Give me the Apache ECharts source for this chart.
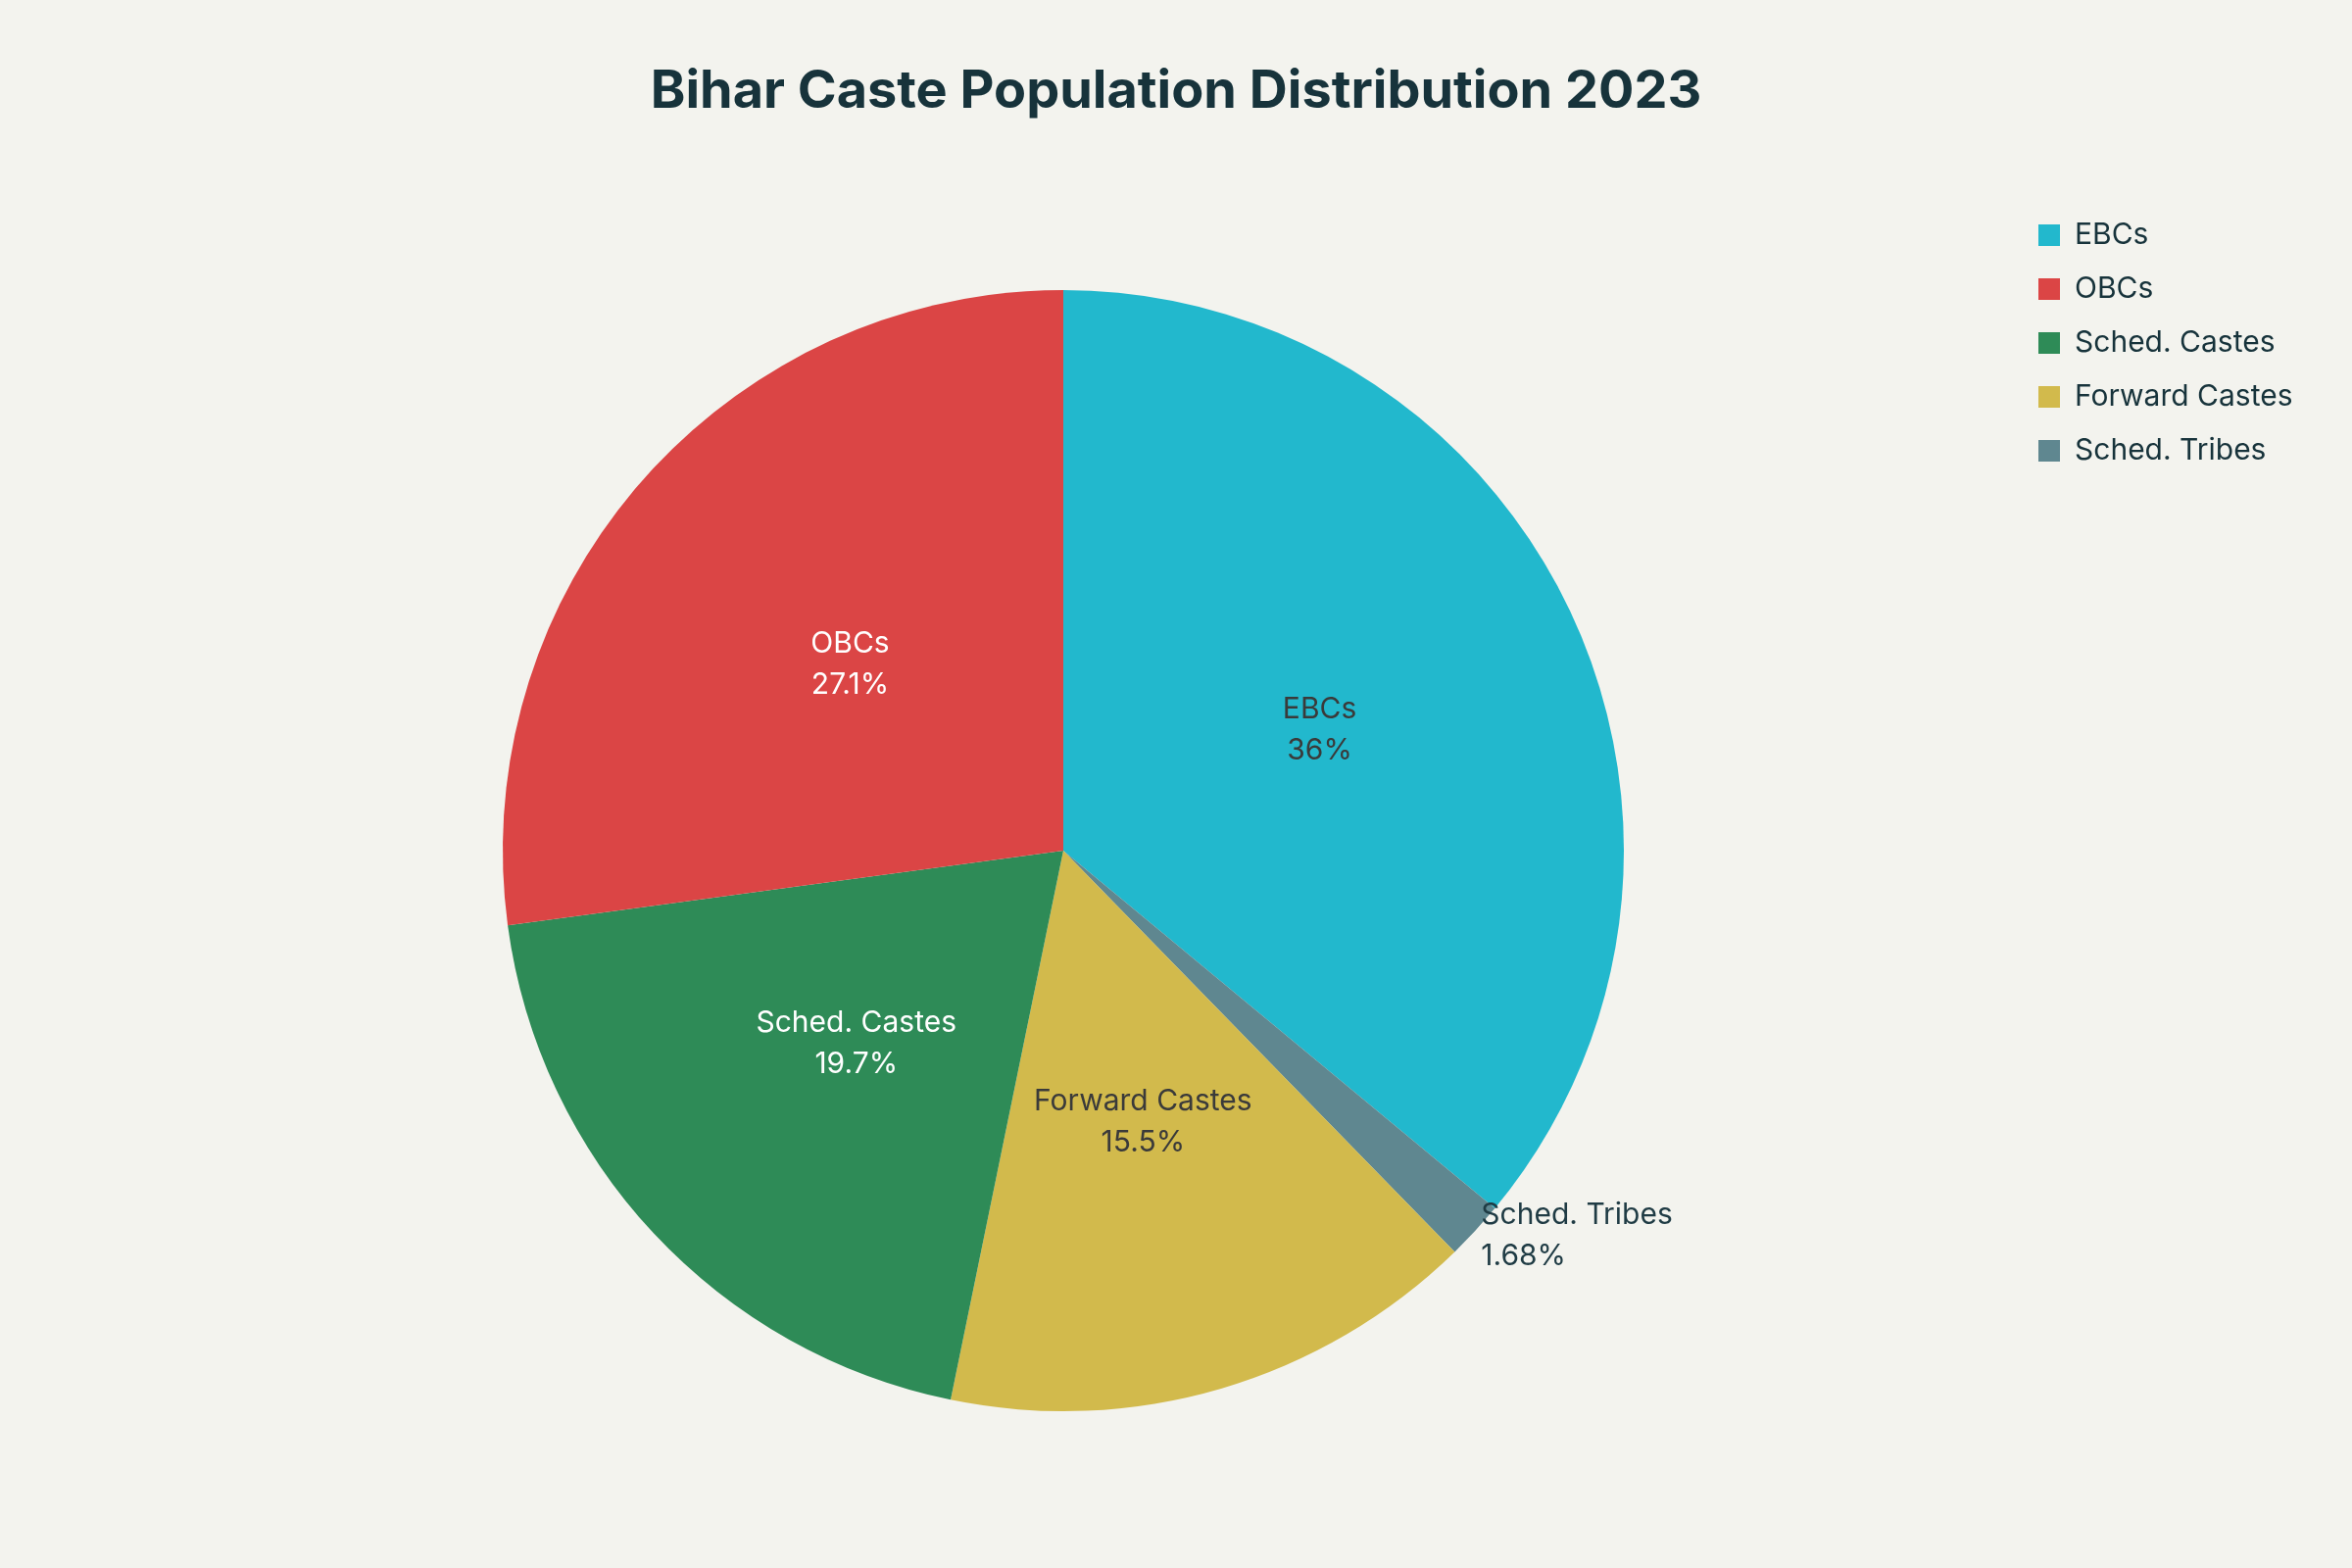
<!DOCTYPE html>
<html>
<head>
<meta charset="utf-8" />
<title>Bihar Caste Population Distribution 2023</title>
<script src="https://cdn.jsdelivr.net/npm/echarts@6/dist/echarts.min.js"></script>
<style>
  html, body { margin: 0; padding: 0; background: #f3f3ee; }
  #chart { width: 2400px; height: 1600px; }
</style>
</head>
<body>
<div id="chart"></div>
<script>
var categories = ['EBCs', 'OBCs', 'Sched. Castes', 'Forward Castes', 'Sched. Tribes'];
var shares = [36.01, 27.12, 19.65, 15.52, 1.68];
var pctLabels = ['36%', '27.1%', '19.7%', '15.5%', '1.68%'];
var colors = ['#22b8cd', '#db4545', '#2e8b57', '#d2ba4c', '#5f8790'];
var textColors = ['#3a3a3a', '#ffffff', '#ffffff', '#3a3a3a', '#1f3b44'];
// slice order going clockwise from 12 o'clock
var drawOrder = [0, 4, 3, 2, 1];

var myChart = echarts.init(document.getElementById('chart'));
var font = 'Inter, "Noto Sans", sans-serif';

var data = drawOrder.map(function (i) {
  var d = { name: categories[i], value: shares[i], pct: pctLabels[i],
    itemStyle: { color: colors[i] }, label: { color: textColors[i] } };
  if (i === 4) {
    d.label = { position: 'outside', color: textColors[i], distanceToLabelLine: 0 };
    d.labelLine = { show: false, length: 8, length2: 0 };
  }
  return d;
});

myChart.setOption({
  backgroundColor: '#f3f3ee',
  animation: false,
  title: {
    text: 'Bihar Caste Population Distribution 2023',
    left: 'center', top: 62,
    textStyle: { fontFamily: font, fontSize: 54, fontWeight: 'bold', color: '#17333b' }
  },
  legend: {
    orient: 'vertical', left: 2075, top: 220,
    itemWidth: 22, itemHeight: 22, itemGap: 25,
    icon: 'rect',
    textStyle: { fontFamily: font, fontSize: 30, color: '#17333b', padding: [0, 0, 0, 10] },
    data: categories
  },
  series: [{
    type: 'pie',
    center: [1085, 868],
    radius: [0, 572],
    startAngle: 90,
    clockwise: true,
    data: data,
    label: {
      position: 'inside',
      fontFamily: font, fontSize: 30, lineHeight: 42,
      formatter: function (p) { return p.name + '\n' + p.data.pct; }
    }
  }]
});
</script>
</body>
</html>
